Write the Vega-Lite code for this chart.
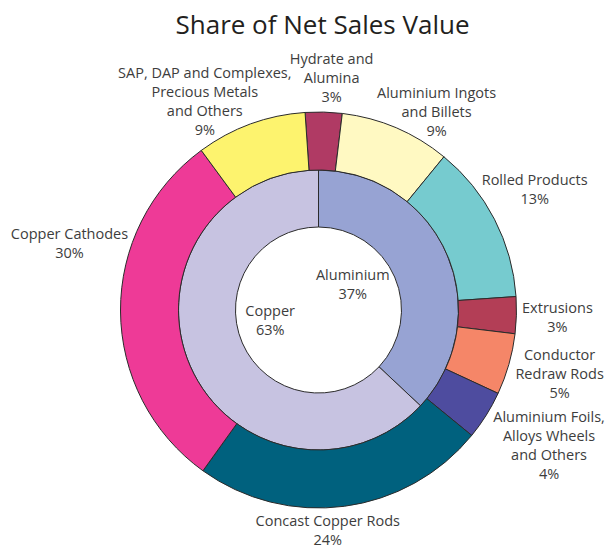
{
  "$schema": "https://vega.github.io/schema/vega-lite/v6.json",
  "width": 575,
  "height": 500,
  "autosize": {"type": "none"},
  "padding": {"left": 31, "top": 60, "right": 0, "bottom": 0},
  "background": "white",
  "title": {"text": "Share of Net Sales Value", "font": "Open Sans", "fontSize": 26, "fontWeight": "normal", "color": "#231f20", "anchor": "middle", "frame": "group", "offset": -45, "dx": 4},
  "config": {
    "view": {"stroke": null},
    "style": {"lbl": {"font": "Open Sans", "fontSize": 14.5, "lineBreak": "\n", "lineHeight": 19, "color": "#3d3d3d", "align": "center", "baseline": "middle"}}
  },
  "layer": [
    {
      "data": {"values": [
        {"name": "Aluminium", "label": "Aluminium\n37%", "value": 37, "rank": 1},
        {"name": "Copper", "label": "Copper\n63%", "value": 63, "rank": 2}
      ]},
      "encoding": {
        "theta": {"field": "value", "type": "quantitative", "stack": true},
        "order": {"field": "rank", "type": "quantitative"}
      },
      "layer": [
        {
          "mark": {"type": "arc", "radius": 140, "radius2": 83, "stroke": "#2b2b2b", "strokeWidth": 1},
          "encoding": {
            "color": {"field": "name", "type": "nominal", "legend": null,
              "scale": {"domain": ["Aluminium", "Copper", "Hydrate", "Ingots", "Rolled", "Extrusions", "Conductor", "Foils", "Concast", "Cathodes", "SAP"],
                        "range": ["#97a3d3", "#c7c3e1", "#b03a64", "#fff9c2", "#76cbcf", "#b33e56", "#f58668", "#4e4c9f", "#00617e", "#ee3a97", "#fdf36e"]}}
          }
        },
        {
          "mark": {"type": "text", "style": "lbl", "radius": 45, "dx": -7, "dy": -16},
          "encoding": {"text": {"field": "label"}}
        }
      ]
    },
    {
      "data": {"values": [
        {"name": "Hydrate", "label": "Hydrate and\nAlumina\n3%", "value": 3, "rank": 1},
        {"name": "Ingots", "label": "Aluminium Ingots\nand Billets\n9%", "value": 9, "rank": 2},
        {"name": "Rolled", "label": "Rolled Products\n13%", "value": 13, "rank": 3},
        {"name": "Extrusions", "label": "Extrusions\n3%", "value": 3, "rank": 4},
        {"name": "Conductor", "label": "Conductor\nRedraw Rods\n5%", "value": 5, "rank": 5},
        {"name": "Foils", "label": "Aluminium Foils,\nAlloys Wheels\nand Others\n4%", "value": 4, "rank": 6},
        {"name": "Concast", "label": "Concast Copper Rods\n24%", "value": 24, "rank": 7},
        {"name": "Cathodes", "label": "Copper Cathodes\n30%", "value": 30, "rank": 8},
        {"name": "SAP", "label": "SAP, DAP and Complexes,\nPrecious Metals\nand Others\n9%", "value": 9, "rank": 9}
      ]},
      "encoding": {
        "theta": {"field": "value", "type": "quantitative", "stack": true, "scale": {"range": [-0.068, 6.2152]}},
        "order": {"field": "rank", "type": "quantitative"}
      },
      "layer": [
        {
          "mark": {"type": "arc", "radius": 198, "radius2": 140, "stroke": "#2b2b2b", "strokeWidth": 1},
          "encoding": {
            "color": {"field": "name", "type": "nominal", "legend": null,
              "scale": {"domain": ["Aluminium", "Copper", "Hydrate", "Ingots", "Rolled", "Extrusions", "Conductor", "Foils", "Concast", "Cathodes", "SAP"],
                        "range": ["#97a3d3", "#c7c3e1", "#b03a64", "#fff9c2", "#76cbcf", "#b33e56", "#f58668", "#4e4c9f", "#00617e", "#ee3a97", "#fdf36e"]}}
          }
        },
        {"mark": {"type": "text", "style": "lbl", "radius": 232, "dx": 7, "dy": -18},
         "encoding": {"text": {"condition": {"test": "datum.name === 'Hydrate'", "field": "label"}, "value": ""}}},
        {"mark": {"type": "text", "style": "lbl", "radius": 232, "dx": 27, "dy": -3},
         "encoding": {"text": {"condition": {"test": "datum.name === 'Ingots'", "field": "label"}, "value": ""}}},
        {"mark": {"type": "text", "style": "lbl", "radius": 232, "dx": 10, "dy": -23},
         "encoding": {"text": {"condition": {"test": "datum.name === 'Rolled'", "field": "label"}, "value": ""}}},
        {"mark": {"type": "text", "style": "lbl", "radius": 232, "dx": 7, "dy": -7},
         "encoding": {"text": {"condition": {"test": "datum.name === 'Extrusions'", "field": "label"}, "value": ""}}},
        {"mark": {"type": "text", "style": "lbl", "radius": 232, "dx": 18, "dy": -18},
         "encoding": {"text": {"condition": {"test": "datum.name === 'Conductor'", "field": "label"}, "value": ""}}},
        {"mark": {"type": "text", "style": "lbl", "radius": 232, "dx": 34, "dy": -15},
         "encoding": {"text": {"condition": {"test": "datum.name === 'Foils'", "field": "label"}, "value": ""}}},
        {"mark": {"type": "text", "style": "lbl", "radius": 232, "dx": -21, "dy": -18},
         "encoding": {"text": {"condition": {"test": "datum.name === 'Concast'", "field": "label"}, "value": ""}}},
        {"mark": {"type": "text", "style": "lbl", "radius": 232, "dx": -17, "dy": -76},
         "encoding": {"text": {"condition": {"test": "datum.name === 'Cathodes'", "field": "label"}, "value": ""}}},
        {"mark": {"type": "text", "style": "lbl", "radius": 232, "dx": -34, "dy": -18},
         "encoding": {"text": {"condition": {"test": "datum.name === 'SAP'", "field": "label"}, "value": ""}}}
      ]
    }
  ],
  "resolve": {"scale": {"theta": "independent"}}
}
